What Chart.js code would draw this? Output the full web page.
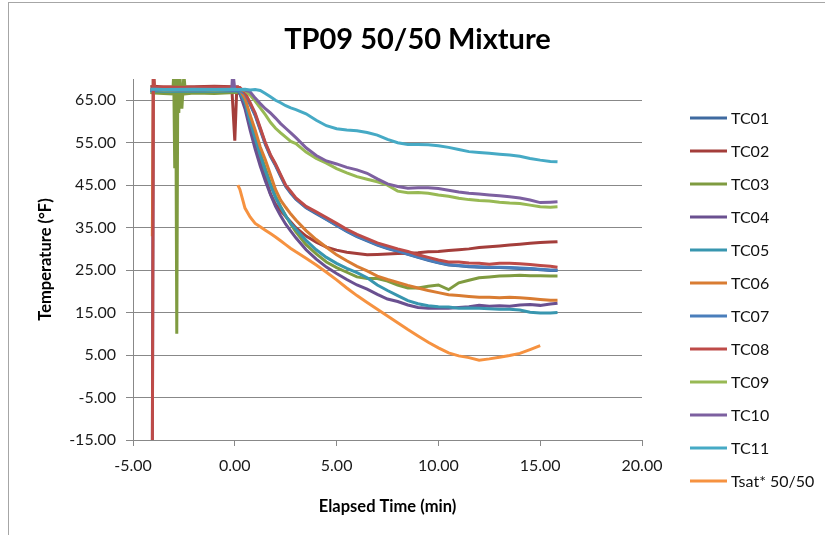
<!DOCTYPE html>
<html><head><meta charset="utf-8">
<script src="https://cdn.jsdelivr.net/npm/chart.js@4.4.0/dist/chart.umd.min.js"></script>
<style>html,body{margin:0;padding:0;background:#fff}#wrap{width:825px;height:535px;position:relative}</style>
</head><body><div id="wrap"><canvas id="c" width="825" height="535"></canvas></div>
<script>
const _ = null;
const time = [-4.15,-4.05,-4.0,-3.95,-3.5,-3.05,-3.0,-2.95,-2.9,-2.85,-2.8,-2.75,-2.7,-2.6,-2.5,-2.42,-2.0,-1.0,-0.15,-0.1,0.0,0.1,0.15,
  0.25,0.5,0.75,1.0,1.25,1.5,1.75,2.0,2.25,2.5,2.75,3.0,3.5,4.0,4.5,5.0,5.5,6.0,6.5,7.0,7.5,8.0,8.5,9.0,9.5,10.0,10.5,11.0,11.5,12.0,12.5,13.0,13.5,14.0,14.5,15.0,15.5,15.85];
const seriesNames = ['TC01','TC02','TC03','TC04','TC05','TC06','TC07','TC08','TC09','TC10','TC11','Tsat* 50/50'];
const tc01 = [67.3,_,_,67.4,67.2,_,_,_,_,_,_,_,_,_,_,_,67.3,67.4,_,_,67.3,_,67.3,
  67.2,66.3,64.0,61.4,58.0,54.6,51.8,49.6,47.1,44.7,43.1,41.7,39.7,38.3,36.9,35.5,34.1,32.9,31.9,30.9,30.1,29.4,28.7,28.0,27.3,26.7,26.2,26.0,25.8,25.7,25.6,25.6,25.5,25.4,25.3,25.1,24.9,24.9];
const tc02 = [68.2,_,_,68.3,68.1,_,_,_,_,_,_,_,_,_,_,_,68.2,68.3,68.2,_,55.5,68.2,68.2,
  67.5,64.5,60.0,55.5,51.0,47.0,43.0,40.5,39.0,37.6,36.3,35.0,33.0,31.6,30.4,29.7,29.2,28.9,28.6,28.7,28.8,28.9,29.0,29.1,29.3,29.4,29.6,29.8,30.0,30.3,30.5,30.7,30.9,31.1,31.3,31.5,31.6,31.7];
const tc03 = [66.8,_,_,66.7,66.6,66.5,71,49,71,10,71,62,71,63,71,66.5,66.7,66.6,_,_,66.8,_,66.8,
  66.5,64.5,60.5,56.5,52.5,49.0,45.5,42.5,40.0,37.8,35.8,34.0,31.0,28.8,26.9,25.6,24.5,23.4,23.0,23.0,22.4,21.5,20.8,20.8,21.2,21.5,20.4,22.0,22.6,23.2,23.4,23.6,23.7,23.8,23.7,23.7,23.6,23.6];
const tc04 = [_,-20,72,67.5,67.4,_,_,_,_,_,_,_,_,_,_,_,67.5,67.4,_,_,67.5,_,67.3,
  66.5,63.0,58.0,53.5,49.5,46.0,42.8,40.0,37.8,35.8,34.2,32.6,29.8,27.6,25.7,24.2,22.8,21.5,20.5,19.3,18.2,17.6,16.8,16.2,16.0,16.0,16.0,16.2,16.4,16.7,16.5,16.6,16.5,16.8,16.9,16.7,17.0,17.2];
const tc05 = [67.2,_,_,67.2,67.1,_,_,_,_,_,_,_,_,_,_,_,67.2,67.1,_,_,67.2,_,67.2,
  67.0,64.5,60.0,56.0,52.0,48.3,45.0,42.0,39.8,37.8,36.0,34.6,32.0,29.8,28.0,26.6,25.4,24.4,23.2,21.5,20.2,19.0,17.8,17.1,16.6,16.4,16.3,16.0,16.1,16.0,15.9,15.8,15.8,15.6,15.1,14.9,14.9,15.0];
const tc06 = [_,33,72,67.8,67.7,_,_,_,_,_,_,_,_,_,_,_,67.8,67.7,_,_,67.8,_,67.7,
  67.5,65.5,61.5,58.0,54.0,51.0,47.5,44.0,41.5,39.8,38.2,36.8,34.3,32.2,30.4,28.6,27.2,25.9,24.8,23.6,22.8,22.1,21.4,20.8,20.2,19.7,19.2,19.0,18.8,18.6,18.6,18.5,18.6,18.5,18.3,18.1,17.9,17.9];
const tc07 = [67.3,_,_,67.4,67.3,_,_,_,_,_,_,_,_,_,_,_,67.3,67.4,_,_,67.3,_,67.3,
  67.3,66.5,64.2,61.7,58.3,54.8,52.0,49.8,47.3,44.8,43.3,41.8,39.8,38.5,37.0,35.6,34.2,33.0,32.0,31.0,30.2,29.5,28.8,28.1,27.4,26.8,26.3,26.1,25.9,25.8,25.7,25.7,25.6,25.5,25.4,25.2,25.0,25.0];
const tc08 = [_,-20,72,68.0,68.1,_,_,_,_,_,_,_,_,_,_,_,68.0,68.1,_,_,68.0,_,68.0,
  68.0,66.8,64.5,62.0,58.5,55.0,52.2,50.0,47.5,45.0,43.5,42.0,40.0,38.7,37.4,36.0,34.6,33.4,32.4,31.4,30.7,30.0,29.4,28.6,28.0,27.4,26.9,26.9,26.7,26.6,26.4,26.6,26.6,26.5,26.3,26.1,25.9,25.7];
const tc09 = [67.5,_,_,67.5,67.4,_,_,_,_,_,_,_,_,_,_,_,67.5,67.4,_,_,67.5,_,67.5,
  67.5,67.3,66.2,64.8,63.2,61.6,59.8,58.4,57.3,56.3,55.3,54.8,52.8,51.3,50.2,48.9,47.9,47.0,46.4,45.8,45.0,43.6,43.2,43.3,43.1,42.7,42.4,41.9,41.6,41.4,41.3,41.0,40.8,40.7,40.3,39.9,39.8,39.9];
const tc10 = [67.5,_,_,67.6,67.5,_,_,_,_,_,_,_,_,_,_,_,67.5,67.6,67.5,72,67.5,_,67.5,
  67.5,67.4,67.0,65.5,64.2,63.0,62.0,60.8,59.5,58.4,57.3,56.2,53.8,52.0,50.7,50.0,49.2,48.6,47.8,46.5,45.3,44.7,44.3,44.4,44.4,44.2,43.8,43.4,43.1,42.9,42.7,42.5,42.3,42.0,41.5,40.9,41.0,41.1];
const tc11 = [67.6,_,_,67.6,67.5,_,_,_,_,_,_,_,_,_,_,_,67.6,67.5,_,_,67.6,_,67.5,
  67.5,67.6,67.4,67.5,67.3,66.6,65.8,65.0,64.4,63.7,63.2,62.8,61.8,60.3,59.0,58.3,58.0,57.8,57.4,56.8,55.8,55.0,54.6,54.6,54.5,54.3,53.9,53.4,52.9,52.7,52.5,52.3,52.1,51.8,51.3,50.9,50.6,50.5];
const tsat = [_,_,_,_,_,_,_,_,_,_,_,_,_,_,_,_,_,_,_,_,_,_,45.0,
  44.0,39.6,37.5,36.0,35.2,34.4,33.6,32.8,31.9,31.0,30.1,29.3,27.8,26.2,24.5,22.7,20.8,19.0,17.4,15.8,14.2,12.6,11.0,9.5,8.0,6.7,5.5,4.8,4.4,3.8,4.1,4.5,4.9,5.4,6.3,7.2,_,_];
const yTickValues = [-15,-5,5,15,25,35,45,55,65];
const xTickValues = [-5,0,5,10,15,20];

const seriesValues = [tc01,tc02,tc03,tc04,tc05,tc06,tc07,tc08,tc09,tc10,tc11,tsat];
const colors = ['#3F6AA0','#A43E3B','#7F9B40','#6A5090','#3896AF','#D97C32','#4A7EBB','#BE4B48','#98B954','#7D60A0','#46AAC5','#F69240'];
const FONT = 'Lato';
const GRID = '#888888';

const datasets = seriesNames.map((name, i) => ({
  label: name,
  data: time.map((t, j) => ({x: t, y: seriesValues[i][j]})),
  borderColor: colors[i],
  backgroundColor: colors[i],
  borderWidth: 3,
  pointRadius: 0,
  tension: 0,
  spanGaps: true,
  order: seriesNames.length - i
}));

const frame = {
  id: 'frame',
  beforeDraw(chart) {
    const ctx = chart.ctx;
    ctx.save();
    ctx.fillStyle = '#fff';
    ctx.fillRect(0, 0, chart.width, chart.height);
    ctx.strokeStyle = '#a6a6a6';
    ctx.lineWidth = 1;
    ctx.strokeRect(8.5, 2.5, 900, 900);
    ctx.restore();
  }
};

const sideLegend = {
  id: 'sideLegend',
  afterDraw(chart) {
    const ctx = chart.ctx;
    ctx.save();
    ctx.font = '16px ' + FONT;
    ctx.textBaseline = 'middle';
    chart.data.datasets.forEach((ds, i) => {
      const y = 118 + 33 * i;
      ctx.strokeStyle = ds.borderColor;
      ctx.lineWidth = 3;
      ctx.beginPath();
      ctx.moveTo(690, y);
      ctx.lineTo(727, y);
      ctx.stroke();
      ctx.fillStyle = '#111';
      ctx.fillText(ds.label, 731, y + 1);
    });
    ctx.restore();
  }
};

new Chart(document.getElementById('c'), {
  type: 'line',
  data: { datasets },
  plugins: [frame, sideLegend],
  options: {
    responsive: false,
    animation: false,
    layout: { padding: { left: 10, right: 0, top: 0, bottom: 0 } },
    plugins: {
      legend: { display: false },
      tooltip: { enabled: false },
      title: {
        display: true,
        text: 'TP09 50/50 Mixture',
        color: '#000',
        font: { family: FONT, size: 29, weight: 'bold' },
        padding: { top: 22, bottom: 22.2 }
      }
    },
    scales: {
      x: {
        type: 'linear', min: -5, max: 20,
        afterBuildTicks: s => { s.ticks = xTickValues.map(v => ({value: v})); },
        afterFit: s => { s.height = 95; },
        ticks: { callback: v => v.toFixed(2), color: '#1a1a1a', font: { family: FONT, size: 16 }, padding: 10, maxRotation: 0, autoSkip: false },
        grid: { drawOnChartArea: false, drawTicks: true, tickLength: 6, color: GRID },
        border: { color: GRID, width: 1 },
        title: { display: true, text: 'Elapsed Time (min)', color: '#000', font: { family: FONT, size: 16.5, weight: 'bold' }, padding: { top: 0, bottom: 18 } }
      },
      y: {
        type: 'linear', min: -15, max: 70,
        afterBuildTicks: s => { s.ticks = yTickValues.map(v => ({value: v})); },
        afterFit: s => { s.width = 123; },
        ticks: { callback: v => v.toFixed(2), color: '#1a1a1a', font: { family: FONT, size: 16 }, padding: 10 },
        grid: { color: GRID, lineWidth: 1, drawTicks: true, tickLength: 7 },
        border: { color: GRID, width: 1 },
        title: { display: true, text: 'Temperature (°F)', color: '#000', font: { family: FONT, size: 16.5, weight: 'bold' }, padding: { top: 26, bottom: 0 } }
      },
      legendSpace: {
        type: 'linear', position: 'right', min: 0, max: 1,
        afterFit: s => { s.width = 183; },
        ticks: { display: false },
        grid: { display: false, drawTicks: false },
        border: { display: false }
      }
    }
  }
});
</script>
</body></html>
